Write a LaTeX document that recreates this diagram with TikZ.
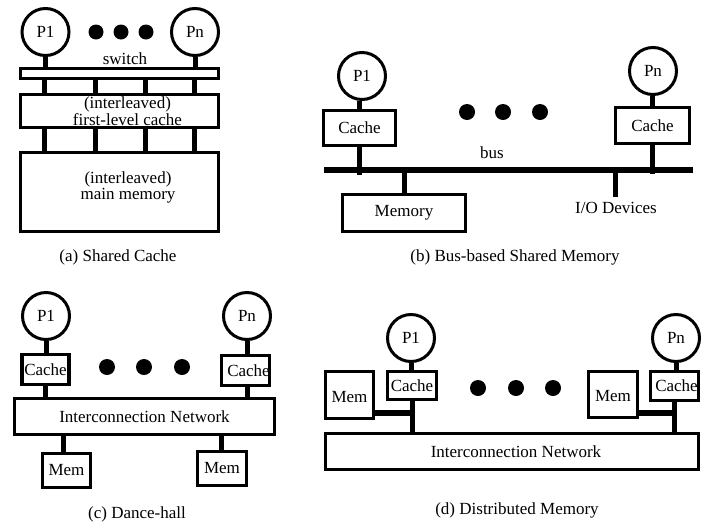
\documentclass[tikz,border=0pt]{standalone}
\usepackage{fontspec}
\setmainfont{Liberation Serif}
\begin{document}
\begin{tikzpicture}[x=1pt,y=-1pt,
  every node/.style={font=\fontsize{17}{12.5}\selectfont, inner sep=0pt},
  proc/.style={circle, draw, line width=3pt, minimum size=47pt},
  box/.style={rectangle, draw, line width=3.2pt},
  stem/.style={line width=5pt},
  busline/.style={line width=6.5pt},
  dot/.style={circle, fill, minimum size=16pt}]
\fill[white] (0,0) rectangle (720,528);
\useasboundingbox (0,0) rectangle (720,528);

% ---------------- (a) Shared Cache
\node[proc] (a1) at (45.5,32) {P1};
\node[proc] (an) at (195,32) {Pn};
\node[dot, minimum size=15pt] (ad1) at (96,32) {};
\node[dot, minimum size=15pt] (ad2) at (121,32) {};
\node[dot, minimum size=15pt] (ad3) at (146,32) {};
\node (asl) at (125,59) {switch};
\node[box, minimum width=198pt, minimum height=10pt] (asw) at (119.5,73.5) {};
\node[box, minimum width=198pt, minimum height=33pt,
  label={[align=center,xshift=8pt,yshift=0pt]center:(interleaved)\\first-level cache}] (acache) at (119.5,111) {};
\node[box, minimum width=198pt, minimum height=79pt,
  label={[align=center,xshift=8.5pt,yshift=5pt]center:(interleaved)\\main memory}] (amem) at (119.5,192) {};
\draw[stem] (a1.south) -- (a1.south |- asw.north);
\draw[stem] (an.south) -- (an.south |- asw.north);
\foreach \x in {44,95,145,194} {
  \draw[stem] (\x,0 |- asw.south) -- (\x,0 |- acache.north);
  \draw[stem] (\x,0 |- acache.south) -- (\x,0 |- amem.north);
}
\node (acap) at (118,257) {(a) Shared Cache};

% ---------------- (b) Bus-based Shared Memory
\node[proc] (b1) at (362,76) {P1};
\node[proc] (bn) at (653,71) {Pn};
\node[box, minimum width=72pt, minimum height=35pt] (bc1) at (359.5,128) {Cache};
\node[box, minimum width=74pt, minimum height=36pt] (bcn) at (652.5,125.5) {Cache};
\node[dot] (bd1) at (467,112) {};
\node[dot] (bd2) at (503,112) {};
\node[dot] (bd3) at (540,112) {};
\coordinate (busL) at (324,170);
\coordinate (busR) at (693,170);
\draw[busline] (busL) -- (busR);
\node (bbus) at (492,153) {bus};
\node[box, minimum width=123pt, minimum height=37pt] (bmem) at (404,213) {Memory};
\coordinate (bio) at (615,197);
\node (biol) at (616,208) {I/O Devices};
\draw[stem] (bc1.north) -- (bc1.north |- b1.south);
\draw[stem] (bc1.south) -- ([yshift=-5pt]bc1.south |- busL);
\draw[stem] (bcn.north) -- (bcn.north |- bn.south);
\draw[stem] (bcn.south) -- ([yshift=-4pt]bcn.south |- busL);
\draw[stem] (bmem.north) -- (bmem.north |- busL);
\draw[stem] (bio |- busL) -- (bio);
\node (bcap) at (515,257) {(b) Bus-based Shared Memory};

% ---------------- (c) Dance-hall
\node[proc] (c1) at (46,316) {P1};
\node[proc] (cn) at (247,316) {Pn};
\node[box, minimum width=47pt, minimum height=30pt] (cc1) at (45.5,369.5) {Cache};
\node[box, minimum width=48pt, minimum height=30pt,
  label={[xshift=3pt]center:Cache}] (ccn) at (245.5,370.5) {};
\node[dot] (cd1) at (107,367) {};
\node[dot] (cd2) at (144,367) {};
\node[dot] (cd3) at (182,367) {};
\node[box, minimum width=260pt, minimum height=36pt] (cnet) at (144.5,416.5) {Interconnection Network};
\node[box, minimum width=48pt, minimum height=34pt] (cm1) at (66.5,470.5) {Mem};
\node[box, minimum width=49pt, minimum height=34pt] (cmn) at (222,468.5) {Mem};
\draw[stem] (c1.south) -- (c1.south |- cc1.north);
\draw[stem] (cc1.south) -- (cc1.south |- cnet.north);
\draw[stem] (cn.south) -- (cn.south |- ccn.north);
\draw[stem] (cn.south |- ccn.south) -- (cn.south |- cnet.north);
\draw[stem] (63,0 |- cnet.south) -- (63,0 |- cm1.north);
\draw[stem] (221,0 |- cnet.south) -- (221,0 |- cmn.north);
\node (ccap) at (137,514) {(c) Dance-hall};

% ---------------- (d) Distributed Memory
\node[proc] (d1) at (411,338) {P1};
\node[proc] (dn) at (676,338) {Pn};
\node[box, minimum width=49pt, minimum height=28pt] (dc1) at (412,385.5) {Cache};
\node[box, minimum width=48pt, minimum height=47pt,
  label={[yshift=-2pt]center:Mem}] (dm1) at (349.5,395) {};
\node[box, minimum width=373pt, minimum height=36pt,
  label={[xshift=4pt]center:Interconnection Network}] (dnet) at (512,451.5) {};
\node[box, minimum width=48pt, minimum height=29pt,
  label={[xshift=2pt]center:Cache}] (dcn) at (674.5,386) {};
\node[box, minimum width=49pt, minimum height=46pt,
  label={[yshift=-2pt]center:Mem}] (dmn) at (613,394.5) {};
\node[dot] (dd1) at (478,388) {};
\node[dot] (dd2) at (516,388) {};
\node[dot] (dd3) at (553,388) {};
\draw[stem] (d1.south) -- (d1.south |- dc1.north);
\draw[stem] (dc1.south) -- (dc1.south |- dnet.north);
\draw[busline] (dm1.east |- 0,413) -- (dc1.south |- 0,413);
\draw[stem] (dn.south) -- (dn.south |- dcn.north);
\draw[stem] (dcn.south) -- (dcn.south |- dnet.north);
\draw[busline] (dmn.east |- 0,413) -- (dcn.south |- 0,413);
\node (dcap) at (517,510) {(d) Distributed Memory};
\end{tikzpicture}
\end{document}
